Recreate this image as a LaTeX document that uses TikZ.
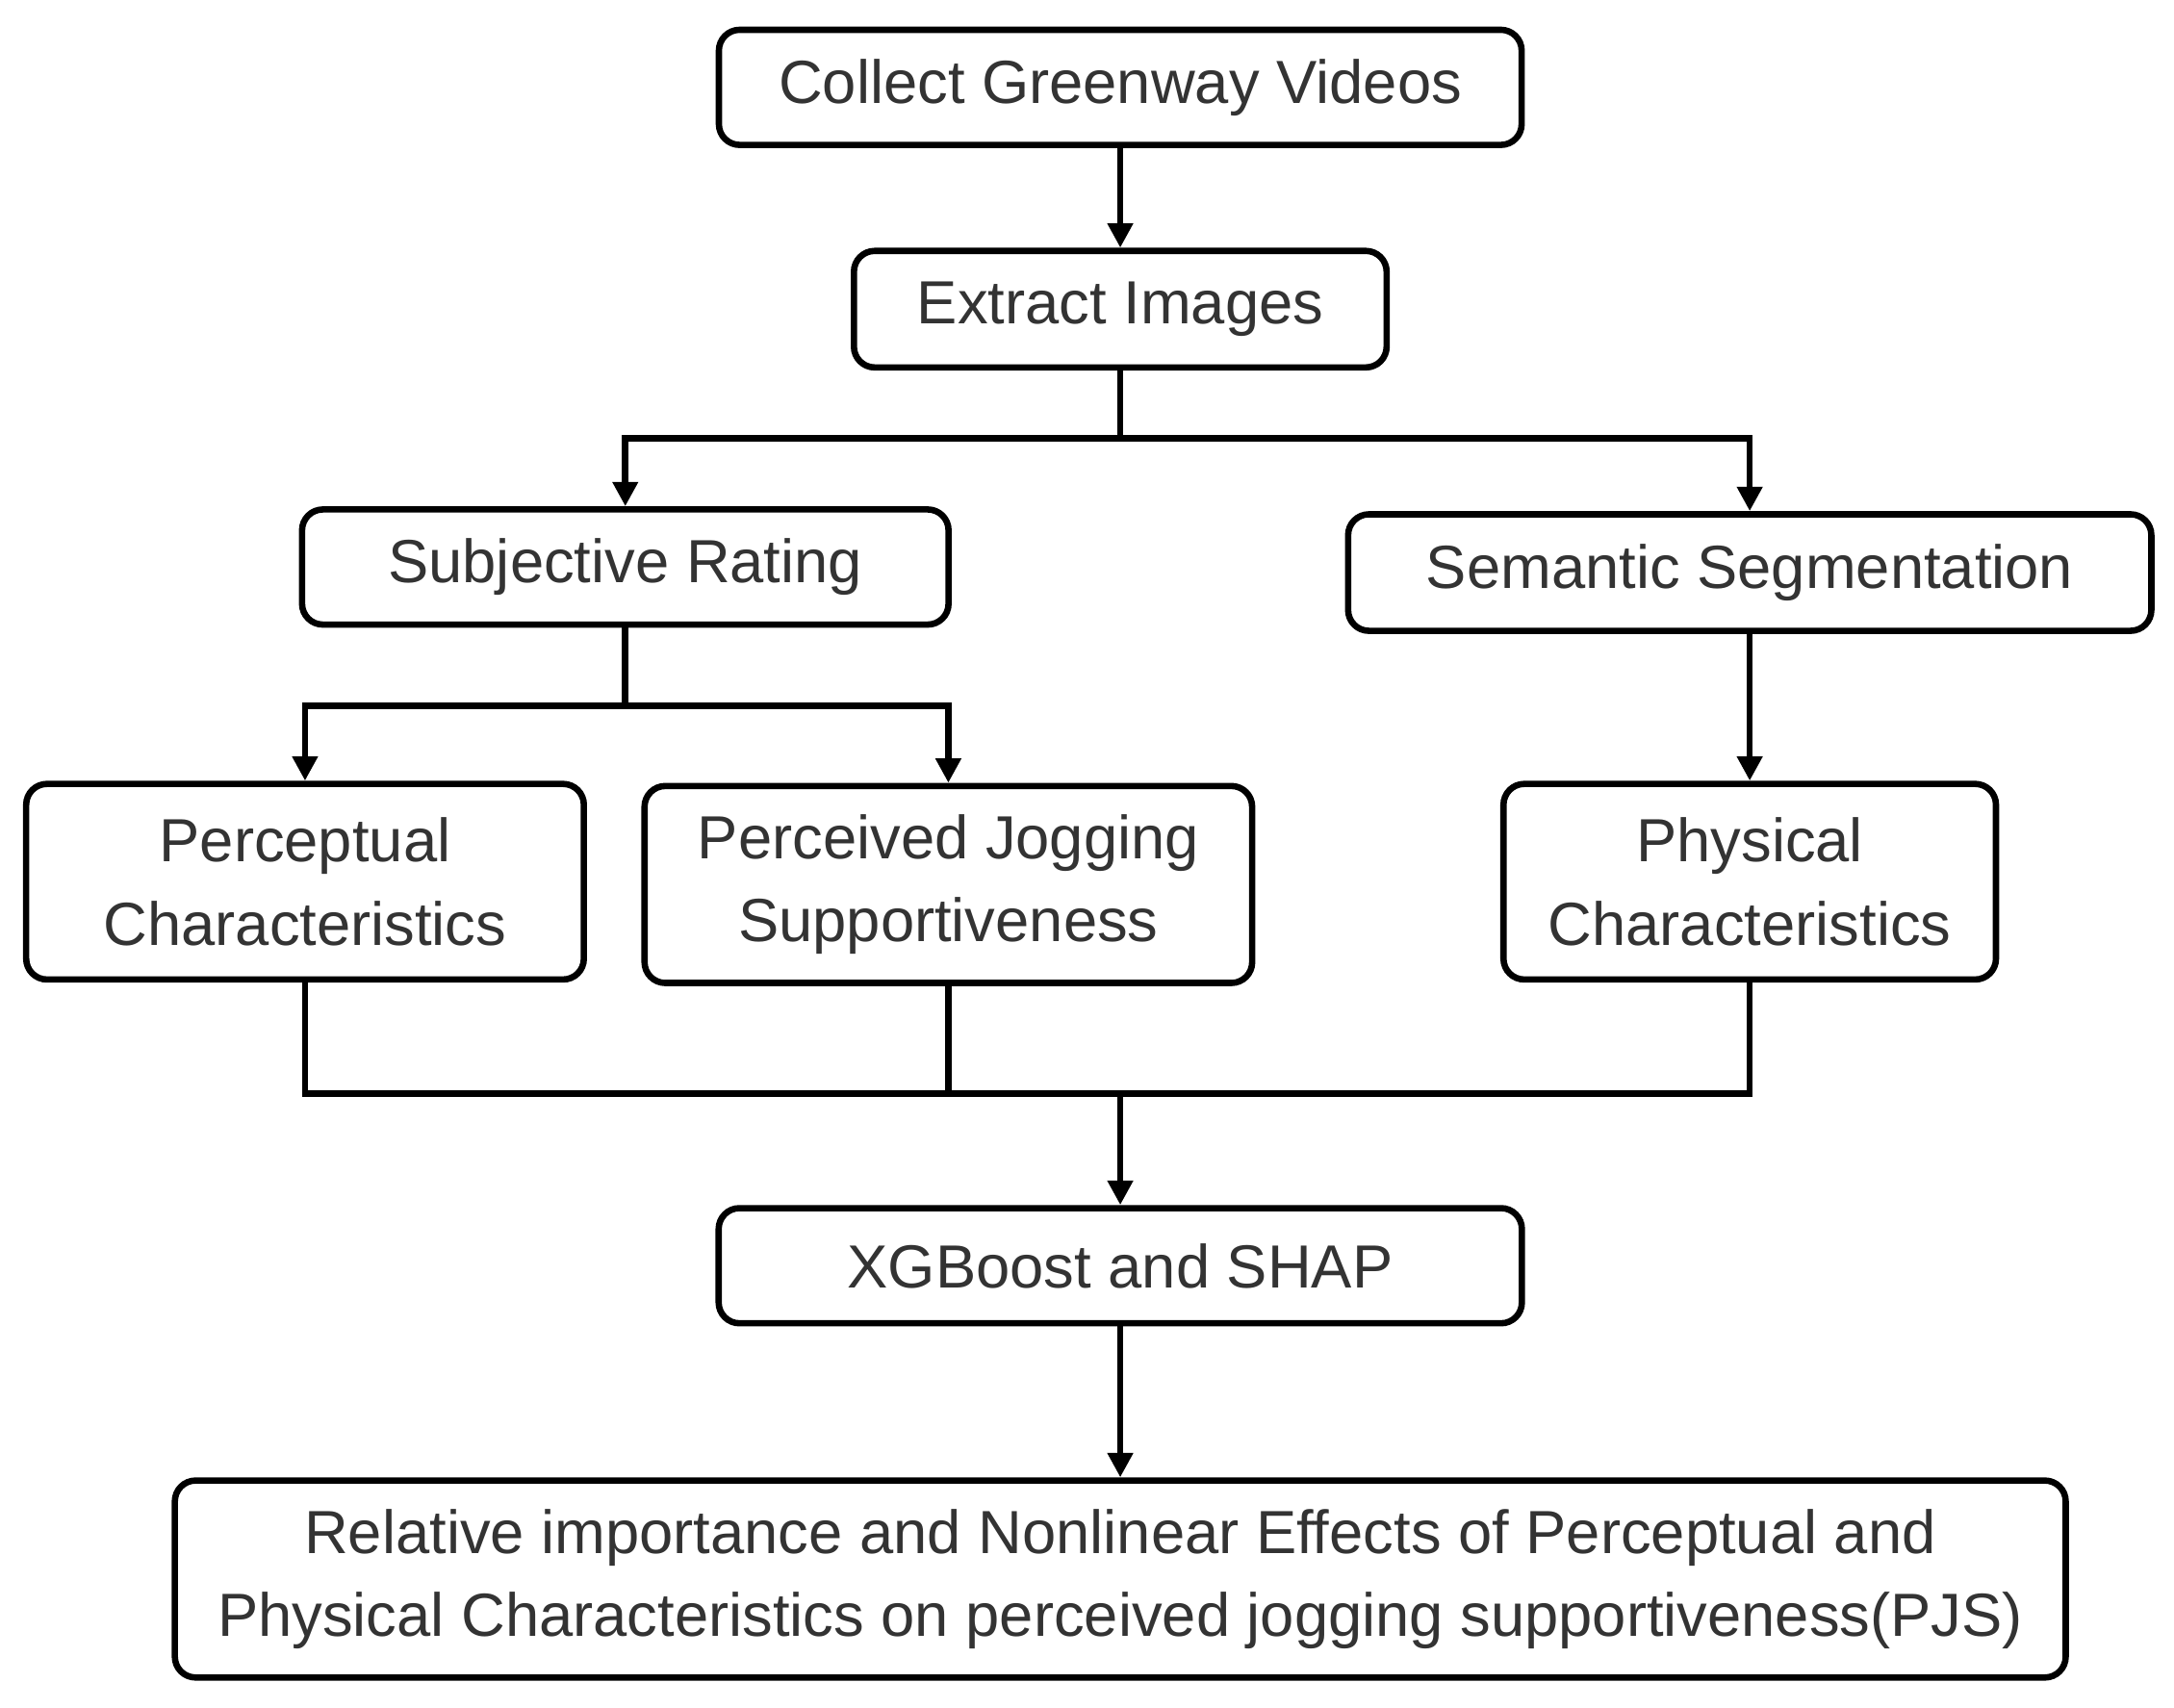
\documentclass[tikz,border=0pt]{standalone}
\usepackage{fontspec}
\setmainfont{Liberation Sans}
\usetikzlibrary{arrows.meta}
\begin{document}
\begin{tikzpicture}[x=0.01cm,y=-0.01cm,
  box/.style={draw,line width=1.3pt,rounded corners=0.15cm,inner sep=0pt,font=\fontsize{12.5}{17}\selectfont,text=black!80,align=center},
  ln/.style={line width=1.3pt},
  ar/.style={ln,-{Triangle[length=5pt,width=5pt]}}]
\useasboundingbox (0,0) rectangle (1568,1232);
\node[box,minimum width=579\pgflinewidth/\pgflinewidth*0.01cm,minimum height=0.83cm] (a) at (808,63) {Collect Greenway Videos};
\node[box,minimum width=3.84cm,minimum height=0.84cm] (b) at (808,223) {Extract Images};
\node[box,minimum width=4.66cm,minimum height=0.83cm] (c) at (451,409) {Subjective Rating};
\node[box,minimum width=5.79cm,minimum height=0.84cm] (d) at (1262,413) {Semantic Segmentation};
\node[box,minimum width=4.02cm,minimum height=1.41cm] (e) at (220,636) {Perceptual\\Characteristics};
\node[box,minimum width=4.38cm,minimum height=1.42cm] (f) at (684,638) {Perceived Jogging\\Supportiveness};
\node[box,minimum width=3.55cm,minimum height=1.41cm] (g) at (1262,636) {Physical\\Characteristics};
\node[box,minimum width=5.79cm,minimum height=0.83cm] (h) at (808,913) {XGBoost and SHAP};
\node[box,minimum width=13.63cm,minimum height=1.42cm] (i) at (808,1139) {Relative importance and Nonlinear Effects of Perceptual and\\Physical Characteristics on perceived jogging supportiveness(PJS)};
\coordinate (j1) at (808,316);
\coordinate (j2) at (451,509);
\coordinate (j3) at (808,789);
\draw[ar] (a) -- (b);
\draw[ln] (b) -- (j1);
\draw[ar] (j1) -| (c.north);
\draw[ar] (j1) -| (d.north);
\draw[ln] (c) -- (j2);
\draw[ar] (j2) -| (e.north);
\draw[ar] (j2) -| (f.north);
\draw[ar] (d.south) -- (g.north);
\draw[ln] (e.south) |- (j3);
\draw[ln] (g.south) |- (j3);
\draw[ln] (f.south) |- (j3);
\draw[ar] (j3) -- (h.north);
\draw[ar] (h) -- (i);
\end{tikzpicture}
\end{document}
